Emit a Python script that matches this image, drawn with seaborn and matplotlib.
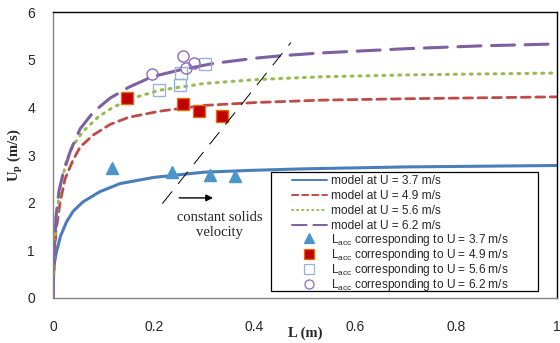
import matplotlib
matplotlib.use("Agg")
import matplotlib.pyplot as plt
import seaborn as sns
import pandas as pd
from matplotlib.lines import Line2D
from matplotlib.patches import Rectangle

# model curves
x_37 = [0, 0.001, 0.003, 0.007, 0.015, 0.027, 0.04, 0.06, 0.093, 0.133, 0.2, 0.3, 0.4, 0.5, 0.6, 0.7, 0.8, 0.9, 1.0]
y_37 = [0, 0.45, 0.75, 0.97, 1.3, 1.6, 1.82, 2.02, 2.23, 2.40, 2.53, 2.64, 2.68, 2.71, 2.73, 2.75, 2.76, 2.77, 2.78]

x_49 = [0, 0.002, 0.006, 0.014, 0.024, 0.04, 0.054, 0.08, 0.113, 0.15, 0.212, 0.3, 0.4, 0.53, 0.7, 0.85, 1.0]
y_49 = [0, 0.7, 1.4, 2.0, 2.5, 2.9, 3.17, 3.42, 3.64, 3.79, 3.92, 4.04, 4.10, 4.15, 4.18, 4.20, 4.22]

x_56 = [0, 0.002, 0.006, 0.014, 0.027, 0.04, 0.06, 0.09, 0.119, 0.16, 0.212, 0.3, 0.4, 0.53, 0.7, 0.85, 1.0]
y_56 = [0, 0.8, 1.6, 2.3, 2.89, 3.2, 3.5, 3.8, 4.0, 4.2, 4.36, 4.5, 4.58, 4.64, 4.68, 4.70, 4.72]

x_62 = [0, 0.002, 0.006, 0.012, 0.02, 0.035, 0.054, 0.08, 0.113, 0.15, 0.196, 0.25, 0.318, 0.4, 0.45, 0.53, 0.7, 0.85, 1.0]
y_62 = [0, 0.9, 1.7, 2.25, 2.61, 3.1, 3.55, 3.9, 4.19, 4.42, 4.64, 4.78, 4.92, 5.03, 5.08, 5.14, 5.23, 5.29, 5.33]

# measured L_acc points
lacc_37_x = [0.117, 0.237, 0.312, 0.362]
lacc_37_y = [2.72, 2.64, 2.57, 2.55]
lacc_49_x = [0.146, 0.257, 0.289, 0.335]
lacc_49_y = [4.20, 4.08, 3.93, 3.82]
lacc_56_x = [0.210, 0.253, 0.255, 0.301]
lacc_56_y = [4.36, 4.47, 4.71, 4.91]
lacc_62_x = [0.196, 0.257, 0.264, 0.279]
lacc_62_y = [4.70, 5.08, 4.82, 4.94]

# constant solids velocity guide line
const_x = [0.217, 0.472]
const_y = [1.98, 5.36]

sns.set_style("white")
plt.rcParams["font.family"] = ["Liberation Sans", "DejaVu Sans"]

fig = plt.figure(figsize=(5.6, 3.43), dpi=100)
ax = fig.add_axes([0.0946, 0.1312, 0.9, 0.8338])

lines = [
    (x_37, y_37, "#4A7EBB", "-", 2.2, "model at U = 3.7 m/s"),
    (x_49, y_49, "#BE4B48", (0, (3.2, 2.0)), 2.0, "model at U = 4.9 m/s"),
    (x_56, y_56, "#98B954", (0, (0.6, 2.0)), 2.2, "model at U = 5.6 m/s"),
    (x_62, y_62, "#7D60A0", (0, (7.5, 3.5)), 2.2, "model at U = 6.2 m/s"),
]
line_handles = []
for xs, ys, col, ls, lw, lab in lines:
    df = pd.DataFrame({"x": xs, "y": ys})
    sns.lineplot(data=df, x="x", y="y", ax=ax, color=col, linewidth=lw,
                 sort=False, estimator=None)
    ax.lines[-1].set_linestyle(ls)
    ax.lines[-1].set_dash_capstyle("round")
    line_handles.append(Line2D([], [], color=col, linestyle=ls, linewidth=1.4,
                               label=lab, dash_capstyle="round"))

sub = r"L$_{\mathregular{acc}}$ corresponding to U = "
pts = [
    (lacc_37_x, lacc_37_y, "^", "#4A96C8", "#4A96C8", 8.5, sub + "3.7 m/s"),
    (lacc_49_x, lacc_49_y, "s", "#C00000", "#E46C0A", 8, sub + "4.9 m/s"),
    (lacc_56_x, lacc_56_y, "s", "none", "#95B3D7", 8, sub + "5.6 m/s"),
    (lacc_62_x, lacc_62_y, "o", "none", "#8E6BBF", 8, sub + "6.2 m/s"),
]
point_handles = []
for xs, ys, m, fc, ec, ms, lab in pts:
    ax.plot(xs, ys, linestyle="none", marker=m, markersize=ms,
            markerfacecolor=fc, markeredgecolor=ec, markeredgewidth=1.0)
    point_handles.append(Line2D([], [], linestyle="none", marker=m, markersize=6.5,
                                markerfacecolor=fc, markeredgecolor=ec,
                                markeredgewidth=0.9, label=lab))

ax.plot(const_x, const_y, color="black", linewidth=0.7, linestyle=(0, (16, 10)))
ax.annotate("", xy=(0.323, 2.10), xytext=(0.245, 2.10),
            arrowprops=dict(arrowstyle="-|>", color="black", lw=1.0,
                            mutation_scale=10))
ax.text(0.33, 1.53, "constant solids\nvelocity", ha="center", va="center",
        fontsize=10.5, family="Liberation Serif", linespacing=1.2)

ax.set_xlim(0, 1)
ax.set_ylim(0, 6)
ax.set_xticks([0, 0.2, 0.4, 0.6, 0.8, 1])
ax.set_xticklabels(["0", "0.2", "0.4", "0.6", "0.8", "1"])
ax.set_yticks(range(0, 7))
ax.tick_params(axis="both", direction="out", length=4, width=0.8,
               color="#868686", labelsize=10, pad=9)
ax.tick_params(axis="x", pad=12)

for s in ["left", "bottom"]:
    ax.spines[s].set_color("#868686")
    ax.spines[s].set_linewidth(1.0)
for s in ["top", "right"]:
    ax.spines[s].set_color("black")
    ax.spines[s].set_linewidth(1.0)

ax.set_xlabel("L (m)", fontsize=10.5, fontweight="bold", family="Liberation Serif")
ax.set_ylabel(r"U$_{\mathregular{p}}$ (m/s)", fontsize=10.5, fontweight="bold",
              family="Liberation Serif")
ax.xaxis.label.set_va("center")
ax.yaxis.label.set_va("center")
ax.xaxis.set_label_coords(0.5, -0.122)
ax.yaxis.set_label_coords(-0.075, 0.5)

# legend box drawn separately (wide side margins, tight top/bottom)
ax.add_patch(Rectangle((0.4325, 0.0245), 0.53, 0.416, transform=ax.transAxes,
                       facecolor="white", edgecolor="black", linewidth=0.9,
                       zorder=4.5))
leg_opts = dict(loc="upper left", fontsize=8.6, frameon=False, handlelength=2.9,
                handletextpad=0.4, borderpad=0, borderaxespad=0)
leg1 = ax.legend(handles=line_handles, bbox_to_anchor=(0.474, 0.430),
                 labelspacing=0.26, **leg_opts)
leg1.set_zorder(5)
ax.add_artist(leg1)
leg2 = ax.legend(handles=point_handles, bbox_to_anchor=(0.474, 0.232),
                 labelspacing=-0.07, **leg_opts)
leg2.set_zorder(5)

fig.savefig("out.png", dpi=100)
